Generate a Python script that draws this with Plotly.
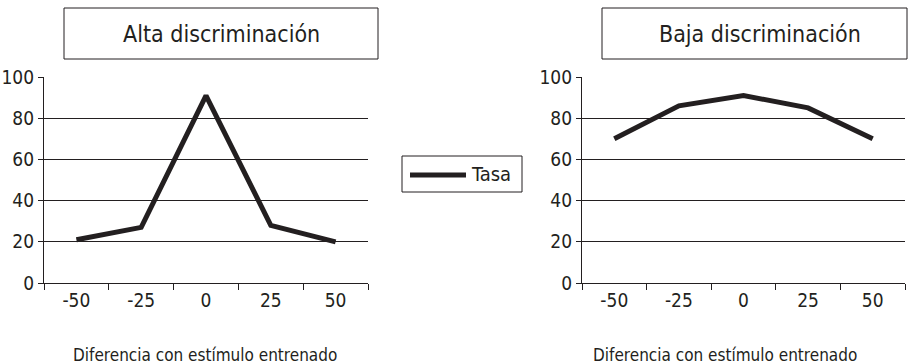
"""Two-panel line chart: tasa de respuesta vs diferencia con el estímulo entrenado."""
import plotly.graph_objects as go

_INK = "#231f20"
_FONT = "DejaVu Sans Condensed, Liberation Sans Narrow, sans-serif"

# data
diferencias = ["-50", "-25", "0", "25", "50"]
tasa_alta = [21, 27, 91, 28, 20]
tasa_baja = [70, 86, 91, 85, 70]

titulos = ["Alta discriminación", "Baja discriminación"]
eje_x_titulo = "Diferencia con estímulo entrenado"
serie_nombre = "Tasa"
y_ticks = [0, 20, 40, 60, 80, 100]
y_grid = [20, 40, 60, 80]

W, H = 908, 364


def px_x(v: float) -> float:
    return v / W


def px_y(v: float) -> float:
    return 1 - v / H


def _xaxis(domain: list[float]) -> dict:
    return {
        "domain": domain,
        "type": "category",
        "range": [-0.5, 4.5],
        "tickson": "boundaries",
        "ticks": "outside",
        "ticklen": 6,
        "tickwidth": 1.3,
        "tickcolor": _INK,
        "showline": True,
        "linecolor": _INK,
        "linewidth": 1.3,
        "showgrid": False,
        "zeroline": False,
        "automargin": False,
        "tickfont": {"size": 19, "color": _INK, "family": _FONT},
        "fixedrange": True,
    }


def _yaxis(anchor: str) -> dict:
    return {
        "domain": [px_y(283), px_y(77)],
        "anchor": anchor,
        "range": [0, 100],
        "tickvals": y_ticks,
        "ticks": "outside",
        "ticklen": 5,
        "tickwidth": 1.3,
        "tickcolor": _INK,
        "showline": True,
        "linecolor": _INK,
        "linewidth": 1.3,
        "showgrid": False,
        "zeroline": False,
        "automargin": False,
        "minor": {"tickvals": y_grid, "showgrid": True, "gridcolor": _INK,
                  "gridwidth": 1, "ticks": ""},
        "tickfont": {"size": 19, "color": _INK, "family": _FONT},
        "fixedrange": True,
    }


fig = go.Figure()
fig.add_trace(go.Scatter(
    x=diferencias, y=tasa_alta, name=serie_nombre, mode="lines",
    line={"color": _INK, "width": 5}, xaxis="x", yaxis="y", showlegend=False,
))
fig.add_trace(go.Scatter(
    x=diferencias, y=tasa_baja, name=serie_nombre, mode="lines",
    line={"color": _INK, "width": 5}, xaxis="x2", yaxis="y2", showlegend=False,
))

shapes = [
    # title boxes
    {"type": "rect", "xref": "paper", "yref": "paper",
     "x0": px_x(64), "x1": px_x(378), "y0": px_y(59), "y1": px_y(8),
     "line": {"color": _INK, "width": 1}},
    {"type": "rect", "xref": "paper", "yref": "paper",
     "x0": px_x(602), "x1": px_x(907), "y0": px_y(59), "y1": px_y(8),
     "line": {"color": _INK, "width": 1}},
    # legend box and sample line
    {"type": "rect", "xref": "paper", "yref": "paper",
     "x0": px_x(402), "x1": px_x(522), "y0": px_y(192), "y1": px_y(156),
     "line": {"color": _INK, "width": 1}},
    {"type": "line", "xref": "paper", "yref": "paper",
     "x0": px_x(410), "x1": px_x(466), "y0": px_y(175), "y1": px_y(175),
     "line": {"color": _INK, "width": 5}},
]

annotations = [
    {"text": titulos[0], "x": px_x(221), "y": px_y(34), "size": 23},
    {"text": titulos[1], "x": px_x(760), "y": px_y(34), "size": 23},
    {"text": serie_nombre, "x": px_x(491), "y": px_y(174), "size": 20},
    {"text": eje_x_titulo, "x": px_x(205), "y": px_y(355), "size": 17},
    {"text": eje_x_titulo, "x": px_x(725), "y": px_y(355), "size": 17},
]

fig.update_layout(
    width=W, height=H,
    margin={"l": 0, "r": 0, "t": 0, "b": 0},
    paper_bgcolor="white", plot_bgcolor="white",
    font={"family": _FONT, "color": _INK},
    xaxis=_xaxis([px_x(44), px_x(368)]),
    yaxis=_yaxis("x"),
    xaxis2=_xaxis([px_x(582), px_x(905)]),
    yaxis2=_yaxis("x2"),
    shapes=shapes,
    annotations=[
        {"text": a["text"], "x": a["x"], "y": a["y"], "xref": "paper", "yref": "paper",
         "xanchor": "center", "yanchor": "middle", "showarrow": False,
         "font": {"size": a["size"], "color": _INK, "family": _FONT}}
        for a in annotations
    ],
    showlegend=False,
)

# the page body has a default 8px margin; drop it so the figure fills the window
fig.write_html(
    "out.html",
    config={"displayModeBar": False},
    post_script="document.body.style.margin = '0';",
)
